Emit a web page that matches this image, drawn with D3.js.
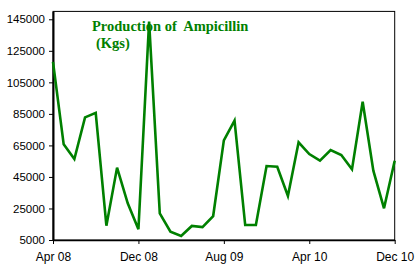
<!DOCTYPE html>
<html><head><meta charset="utf-8">
<script src="https://cdn.jsdelivr.net/npm/d3@7"></script>
<style>body{margin:0;background:#fff}svg{display:block}</style>
</head><body>
<svg id="c" width="416" height="264"></svg>
<script>
const months = ["Apr 08","May 08","Jun 08","Jul 08","Aug 08","Sep 08","Oct 08","Nov 08","Dec 08",
 "Jan 09","Feb 09","Mar 09","Apr 09","May 09","Jun 09","Jul 09","Aug 09","Sep 09","Oct 09","Nov 09","Dec 09",
 "Jan 10","Feb 10","Mar 10","Apr 10","May 10","Jun 10","Jul 10","Aug 10","Sep 10","Oct 10","Nov 10","Dec 10"];
const production = [118000,65700,56400,82800,85700,14100,50900,28300,11800,
 143500,21900,10300,7500,13900,13200,20200,68200,80700,14500,14500,51900,51500,32900,67000,59500,
 55300,62100,58900,49800,92700,49000,25100,55300];
const yTicks = [5000,25000,45000,65000,85000,105000,125000,145000];
const xTickLabels = ["Apr 08","Dec 08","Aug 09","Apr 10","Dec 10"];

const svg = d3.select("#c");
const L=53, R=394.7, T=11.4, B=240;
const x = d3.scalePoint().domain(months).range([L,R]);
const y = d3.scaleLinear().domain([5000,150000]).range([B,T]);

svg.append("rect").attr("x",L).attr("y",T).attr("width",R-L).attr("height",B-T)
  .attr("fill","none").attr("stroke","#000").attr("stroke-width",1);

const ya = svg.append("g").attr("transform",`translate(${L},0)`)
  .call(d3.axisLeft(y).tickValues(yTicks).tickSize(4).tickSizeOuter(0).tickPadding(4).tickFormat(d3.format("d")));
ya.select(".domain").attr("stroke","#000").attr("stroke-width",2);
ya.selectAll("text").attr("font-family","Liberation Sans, Arial, sans-serif").attr("font-size","11.5px").attr("fill","#000");

const xa = svg.append("g").attr("transform",`translate(0,${B})`)
  .call(d3.axisBottom(x).tickValues(xTickLabels).tickSize(4).tickSizeOuter(0).tickPadding(8));
xa.select(".domain").attr("stroke","#000").attr("stroke-width",1.5);
xa.selectAll("text").attr("font-family","Liberation Sans, Arial, sans-serif").attr("font-size","12px").attr("fill","#000");

svg.append("path").datum(production)
  .attr("fill","none").attr("stroke","#008000").attr("stroke-width",2.6).attr("stroke-linejoin","miter")
  .attr("d", d3.line().x((d,i)=>x(months[i])).y(d=>y(d)));

const t = svg.append("text").attr("font-family","Liberation Serif, Times New Roman, serif")
  .attr("font-weight","bold").attr("font-size","14.5px").attr("fill","#008000");
t.append("tspan").attr("x",92).attr("y",30.5).attr("xml:space","preserve").text("Production of\u00a0 Ampicillin");
t.append("tspan").attr("x",96).attr("y",47.5).text("(Kgs)");
</script>
</body></html>
